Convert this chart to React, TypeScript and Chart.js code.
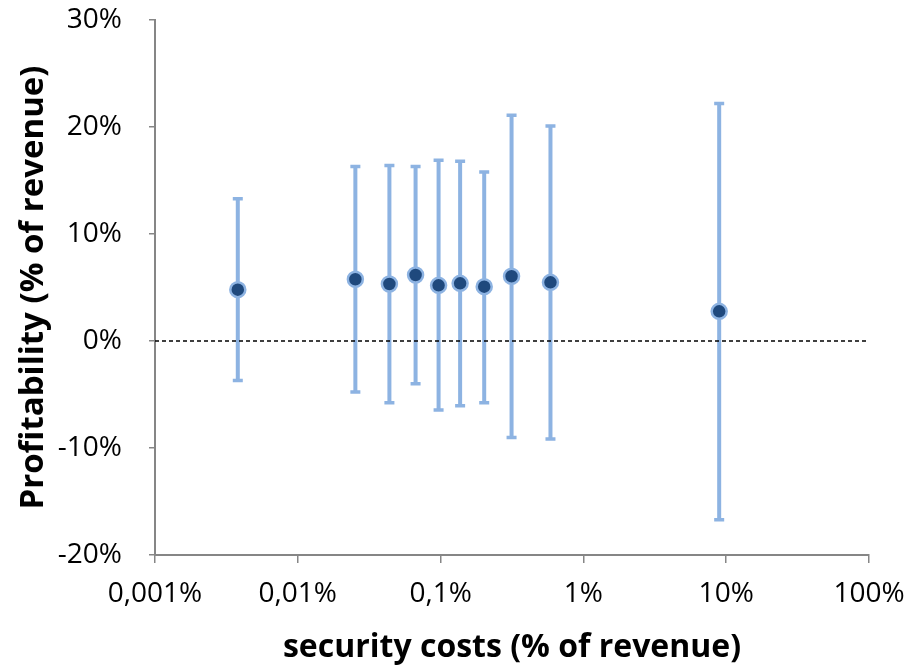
import React, { useEffect, useRef } from "react";
import { Chart, registerables } from "chart.js";

Chart.register(...registerables);

const costs = [0.0038, 0.0253, 0.0438, 0.0668, 0.0968, 0.137, 0.202, 0.314, 0.588, 8.93];
const profit = [4.8, 5.77, 5.33, 6.17, 5.2, 5.39, 5.08, 6.05, 5.48, 2.77];
const upper = [13.3, 16.3, 16.4, 16.3, 16.9, 16.8, 15.8, 21.1, 20.1, 22.2];
const lower = [-3.7, -4.77, -5.76, -3.99, -6.45, -6.04, -5.76, -9.03, -9.16, -16.7];
const xTicks = [0.001, 0.01, 0.1, 1, 10, 100];
const xTickLabels = ["0,001%", "0,01%", "0,1%", "1%", "10%", "100%"];
const yTicks = [-20, -10, 0, 10, 20, 30];

const FONT = "'Open Sans', 'DejaVu Sans', sans-serif";
const AXIS = "#868686";
const BAR = "#8DB3E2";

const errorBars = {
  id: "errorBars",
  beforeDatasetsDraw(chart: any) {
    const { ctx, scales } = chart;
    const xs = scales.x;
    const ys = scales.y;
    ctx.save();
    ctx.strokeStyle = BAR;
    ctx.lineCap = "butt";
    costs.forEach((c, i) => {
      const px = xs.getPixelForValue(c);
      const top = ys.getPixelForValue(upper[i]);
      const bot = ys.getPixelForValue(lower[i]);
      ctx.lineWidth = 4;
      ctx.beginPath();
      ctx.moveTo(px, top);
      ctx.lineTo(px, bot);
      ctx.stroke();
      ctx.lineWidth = 3.5;
      ctx.beginPath();
      ctx.moveTo(px - 5, top);
      ctx.lineTo(px + 5, top);
      ctx.moveTo(px - 5, bot);
      ctx.lineTo(px + 5, bot);
      ctx.stroke();
    });
    ctx.restore();
  },
};

export default function App() {
  const ref = useRef<HTMLCanvasElement>(null);
  useEffect(() => {
    if (!ref.current) return;
    const chart = new Chart(ref.current, {
      type: "scatter",
      data: {
        datasets: [
          {
            type: "line",
            data: [
              { x: xTicks[0], y: 0 },
              { x: xTicks[xTicks.length - 1], y: 0 },
            ],
            borderColor: "#000000",
            borderWidth: 1.5,
            borderDash: [4, 3],
            pointRadius: 0,
            order: 2,
          } as any,
          {
            data: costs.map((c, i) => ({ x: c, y: profit[i] })),
            backgroundColor: "#1F497D",
            borderColor: BAR,
            borderWidth: 2.5,
            pointRadius: 7.5,
            order: 1,
          },
        ],
      },
      options: {
        responsive: false,
        animation: false,
        plugins: { legend: { display: false }, tooltip: { enabled: false } },
        layout: { padding: { left: 0, right: 48, top: 20, bottom: 0 } },
        scales: {
          x: {
            type: "logarithmic",
            min: 0.001,
            max: 100,
            afterBuildTicks(scale: any) {
              scale.ticks = xTicks.map((v) => ({ value: v }));
            },
            afterFit(scale: any) {
              scale.height = 116;
              scale.paddingLeft = 0;
              scale.paddingRight = 0;
            },
            ticks: {
              autoSkip: false,
              maxRotation: 0,
              padding: 14,
              color: "#000000",
              font: { family: FONT, size: 28 },
              callback: (_v: any, i: number) => xTickLabels[i],
            },
            grid: {
              drawOnChartArea: false,
              color: AXIS,
              tickLength: 8,
              lineWidth: 1.5,
            },
            border: { color: AXIS, width: 2 },
            title: {
              display: true,
              text: "security costs (% of revenue)",
              color: "#000000",
              font: { family: FONT, size: 32, weight: "bold" },
              padding: { top: 4, bottom: 4 },
            },
          },
          y: {
            min: -20,
            max: 30,
            afterBuildTicks(scale: any) {
              scale.ticks = yTicks.map((v) => ({ value: v }));
            },
            afterFit(scale: any) {
              scale.width = 155;
              scale.paddingTop = 0;
              scale.paddingBottom = 0;
            },
            ticks: {
              padding: 27,
              color: "#000000",
              font: { family: FONT, size: 28 },
              callback: (v: any) => `${v}%`,
            },
            grid: {
              drawOnChartArea: false,
              color: AXIS,
              tickLength: 6,
              lineWidth: 1.5,
            },
            border: { color: AXIS, width: 2 },
            title: {
              display: true,
              text: "Profitability (% of revenue)",
              color: "#000000",
              font: { family: FONT, size: 33, weight: "bold" },
              padding: { top: 14, bottom: 14 },
            },
          },
        },
      },
      plugins: [errorBars],
    });
    return () => chart.destroy();
  }, []);
  return (
    <div style={{ position: "absolute", left: 0, top: 0, width: 917, height: 671, background: "#fff" }}>
      <canvas ref={ref} width={917} height={671} />
    </div>
  );
}
